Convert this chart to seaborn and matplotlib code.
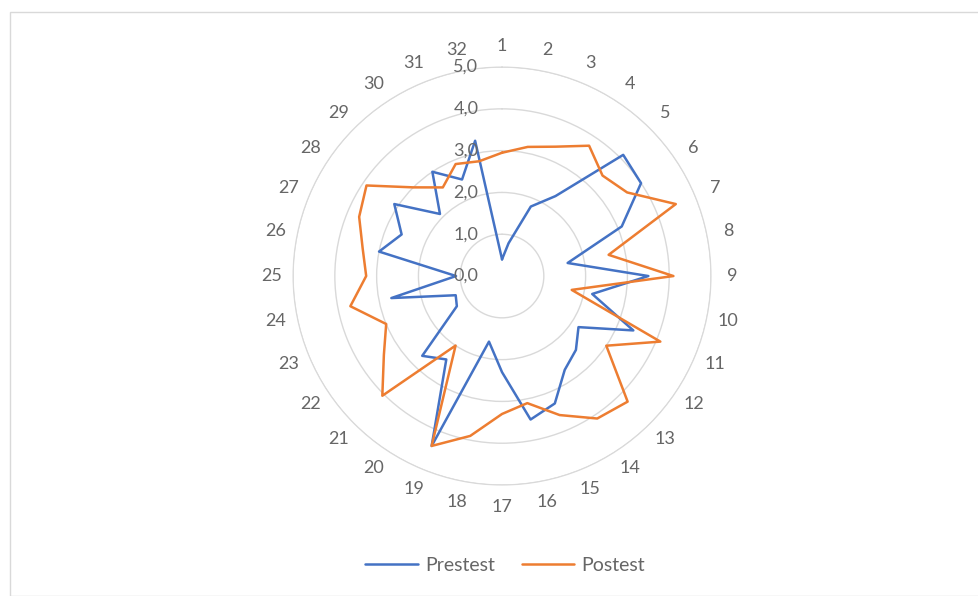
import matplotlib
matplotlib.use('Agg')
import matplotlib.pyplot as plt
import seaborn as sns
import numpy as np
import pandas as pd

categorias = [str(i) for i in range(1, 33)]

pretest = [0.4, 0.8, 1.8, 2.3, 4.1, 4.0, 3.1, 1.6, 3.5, 2.2, 3.4, 2.2,
           2.5, 2.7, 3.3, 3.5, 2.3, 1.6, 4.4, 2.4, 2.7, 1.3, 1.2, 2.7,
           1.1, 3.0, 2.6, 3.1, 2.1, 3.0, 2.5, 3.3]

postest = [2.95, 3.15, 3.35, 3.75, 3.4, 3.6, 4.5, 2.6, 4.1, 1.7, 4.1, 3.0,
           4.25, 4.1, 3.6, 3.1, 3.3, 3.9, 4.4, 2.0, 4.05, 3.4, 3.0, 3.7,
           3.25, 3.4, 3.7, 3.9, 3.0, 2.55, 2.9, 2.8]

radial_ticks = [0, 1, 2, 3, 4, 5]
radial_labels = ['0,0', '1,0', '2,0', '3,0', '4,0', '5,0']

series = ['Prestest', 'Postest']
palette = {'Prestest': '#4472C4', 'Postest': '#ED7D31'}

angles = np.linspace(0, 2 * np.pi, len(categorias), endpoint=False)

# monta tabela longa, fechando o poligono
linhas = []
for nome, valores in zip(series, [pretest, postest]):
    for i, v in enumerate(valores + [valores[0]]):
        ang = angles[i] if i < len(angles) else 2 * np.pi
        linhas.append({'Serie': nome, 'angulo': ang, 'valor': v, 'ordem': i})
df = pd.DataFrame(linhas)

sns.set_style('white')
plt.rcParams['font.family'] = ['Lato', 'DejaVu Sans']

fig = plt.figure(figsize=(9.79, 5.96), dpi=100)
fig.patch.set_facecolor('white')

# moldura clara do grafico
fig.add_artist(plt.Rectangle((10 / 979, 0.0), 1.0, 1 - 12 / 596, transform=fig.transFigure,
                             fill=False, edgecolor='#d9d9d9', linewidth=1))

ax = fig.add_axes([0.2993, 0.1862, 0.427, 0.7013], projection='polar')
ax.set_theta_zero_location('N')
ax.set_theta_direction(-1)

sns.lineplot(data=df, x='angulo', y='valor', hue='Serie', palette=palette,
             sort=False, estimator=None, linewidth=1.8, ax=ax)

ax.set_ylim(0, 5)
ax.set_yticks(radial_ticks[1:])
ax.set_yticklabels([])
ax.yaxis.grid(True, color='#d9d9d9', linewidth=1)
ax.xaxis.grid(False)
ax.spines['polar'].set_color('#d9d9d9')
ax.set_xticks(angles)
ax.set_xticklabels(categorias, color='#666666', fontsize=13)
ax.tick_params(axis='x', pad=5)
ax.set_xlabel('')
ax.set_ylabel('')

for r, lab in zip(radial_ticks, radial_labels):
    ax.annotate(lab, xy=(0, r), xytext=(-17, 0), textcoords='offset points',
                ha='right', va='center', fontsize=13, color='#666666')

handles, labels = ax.get_legend_handles_labels()
ax.legend_.remove()
fig.legend(handles, labels, loc='center', bbox_to_anchor=(0.516, 0.052), ncol=2,
           frameon=False, fontsize=14, handlelength=2.7, handletextpad=0.36,
           columnspacing=1.4, labelcolor='#666666')

fig.savefig('out.png', dpi=100)
